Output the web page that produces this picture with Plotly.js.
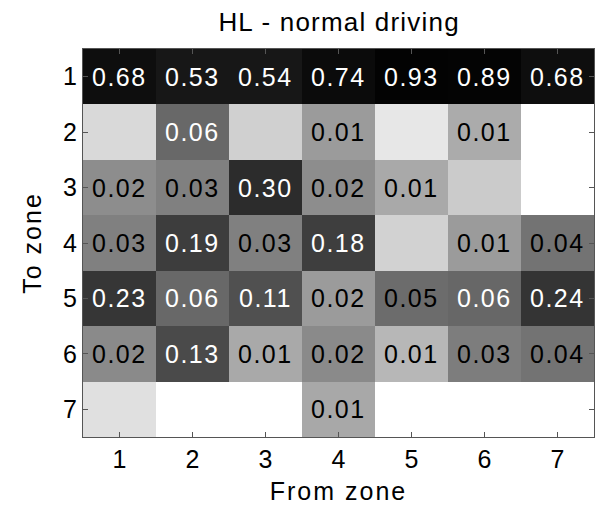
<!DOCTYPE html>
<html>
<head>
<meta charset="utf-8">
<script src="https://cdn.plot.ly/plotly-3.0.1.min.js"></script>
<style>
html,body{margin:0;padding:0;background:#fff;}
#chart .annotation-text{letter-spacing:1.5px;}
#chart .gtitle{letter-spacing:1.2px;}
#chart .xtitle,#chart .ytitle{letter-spacing:2px;}
</style>
</head>
<body>
<div id="chart" style="width:596px;height:505px;"></div>
<script>
// From zone (columns) and To zone (rows)
var fromZones = [1, 2, 3, 4, 5, 6, 7];
var toZones = [1, 2, 3, 4, 5, 6, 7];
// Transition shares, row = to zone, column = from zone (0 = no transition)
var row1 = [0.68, 0.53, 0.54, 0.74, 0.93, 0.89, 0.68];
var row2 = [0.0028, 0.06, 0.0036, 0.0149, 0.0019, 0.0098, 0];
var row3 = [0.022, 0.031, 0.30, 0.022, 0.0103, 0.0041, 0];
var row4 = [0.031, 0.194, 0.031, 0.184, 0.0034, 0.0149, 0.044];
var row5 = [0.234, 0.06, 0.114, 0.0151, 0.053, 0.061, 0.244];
var row6 = [0.024, 0.134, 0.0103, 0.024, 0.007, 0.034, 0.044];
var row7 = [0.0023, 0, 0, 0.0105, 0, 0, 0];
var shares = [row1, row2, row3, row4, row5, row6, row7];

var FONT = 'Liberation Sans, Arial, Helvetica, sans-serif';

var zColor = shares.map(function (r) {
  return r.map(function (v) { return v > 0 ? Math.log10(v) : null; });
});

var annotations = [];
shares.forEach(function (r, i) {
  r.forEach(function (v, j) {
    if (v >= 0.005) {
      annotations.push({
        x: fromZones[j], y: toZones[i], xref: 'x', yref: 'y',
        text: v.toFixed(2), showarrow: false,
        font: {family: FONT, size: 25, color: v >= 0.055 ? '#ffffff' : '#000000'}
      });
    }
  });
});

var trace = {
  type: 'heatmap',
  x: fromZones, y: toZones, z: zColor,
  zmin: -3, zmax: 0,
  colorscale: [[0, 'rgb(255,255,255)'], [1, 'rgb(0,0,0)']],
  showscale: false,
  hoverinfo: 'skip'
};

var axisCommon = {
  showgrid: false, zeroline: false,
  showline: true, linecolor: '#555', linewidth: 1, mirror: 'ticks',
  ticks: 'inside', ticklen: 5, tickcolor: '#555', tickwidth: 1,
  tickfont: {family: FONT, size: 25, color: '#000'},
  tickmode: 'array'
};

var layout = {
  width: 596, height: 505,
  margin: {l: 83, r: 2, t: 49, b: 68},
  paper_bgcolor: '#fff', plot_bgcolor: '#fff',
  title: {text: 'HL - normal driving', font: {family: FONT, size: 26, color: '#000'},
          x: 0.569, xanchor: 'center', y: 0.956, yanchor: 'middle', yref: 'container'},
  xaxis: Object.assign({}, axisCommon, {
    tickvals: fromZones, ticktext: fromZones.map(String),
    range: [0.5, 7.5],
    title: {text: 'From zone', font: {family: FONT, size: 25, color: '#000'}, standoff: 10}
  }),
  yaxis: Object.assign({}, axisCommon, {
    tickvals: toZones, ticktext: toZones.map(String),
    range: [7.5, 0.5],
    title: {text: 'To zone', font: {family: FONT, size: 25, color: '#000'}, standoff: 14}
  }),
  annotations: annotations
};

Plotly.newPlot('chart', [trace], layout, {displayModeBar: false, staticPlot: true});
</script>
</body>
</html>
